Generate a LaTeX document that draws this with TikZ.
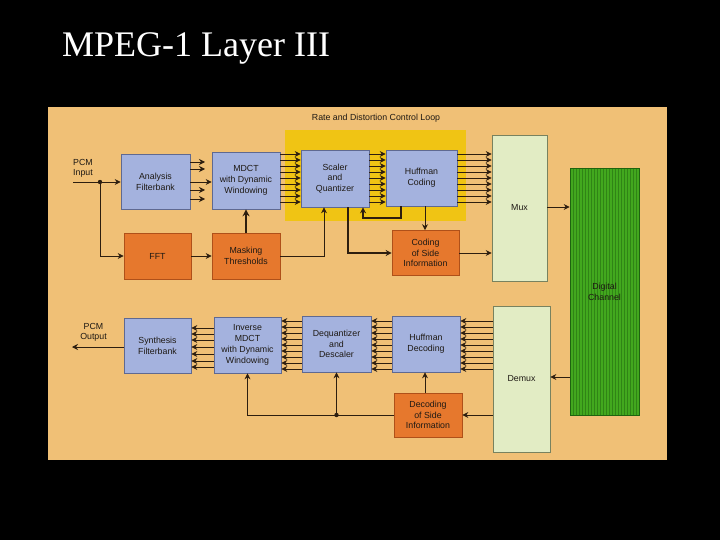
\documentclass[tikz,border=0pt]{standalone}
\usepackage{fontspec}
\setmainfont{Liberation Sans}
\newfontfamily\titlefont{Liberation Serif}
\usetikzlibrary{arrows.meta}
\definecolor{panel}{RGB}{240,192,118}
\definecolor{hilite}{RGB}{240,196,20}
\definecolor{boxblue}{RGB}{164,178,222}
\definecolor{blueedge}{RGB}{95,105,145}
\definecolor{boxorange}{RGB}{230,120,45}
\definecolor{orangeedge}{RGB}{175,80,25}
\definecolor{muxgreen}{RGB}{226,236,196}
\definecolor{muxedge}{RGB}{120,130,95}
\definecolor{dcgreen}{RGB}{66,168,30}
\definecolor{dcstripe}{RGB}{48,132,22}
\definecolor{dcdark}{RGB}{30,100,15}
\definecolor{linec}{RGB}{45,30,15}
\definecolor{txt}{RGB}{30,25,20}
\begin{document}
\begin{tikzpicture}[x=1pt,y=-1pt,
  box/.style={draw=blueedge, line width=0.6pt, align=center, inner sep=0pt, text=txt,
    font=\fontsize{8.8}{10.8}\selectfont},
  bluebox/.style={box, fill=boxblue},
  orangebox/.style={box, fill=boxorange, draw=orangeedge},
  muxbox/.style={box, fill=muxgreen, draw=muxedge},
  dcbox/.style={box, fill=dcgreen, draw=dcdark,
    path picture={\foreach \i in {1,...,23}
      \draw[dcstripe, line width=0.9pt] ([xshift=3*\i pt]path picture bounding box.north west) -- ([xshift=3*\i pt]path picture bounding box.south west);}},
  lbl/.style={inner sep=0pt, text=txt, font=\fontsize{8.8}{10}\selectfont},
  conn/.style={draw=linec, line width=0.8pt},
  arr/.style={conn, -{Stealth[length=6pt,width=6pt]}},
  dot/.style={fill=linec}
]
\useasboundingbox (0,0) rectangle (720,540);
\fill[black] (0,0) rectangle (720,540);
\node[anchor=base west, text=white, inner sep=0pt, font=\titlefont\fontsize{36}{40}\selectfont] (title) at (62,57) {MPEG-1 Layer III};
% panel
\fill[panel] (48,107) rectangle (667,460);
\fill[hilite] (285,130) rectangle (466,221);
\node[lbl] (rdl) at (376,118) {Rate and Distortion Control Loop};
% encoder
\node[bluebox, minimum width=69pt, minimum height=55pt] (af) at (155.5,182) {Analysis\\Filterbank};
\node[bluebox, minimum width=68pt, minimum height=57pt] (mdct) at (246,180.5) {MDCT\\with Dynamic\\Windowing};
\node[orangebox, minimum width=67pt, minimum height=46pt] (fft) at (157.5,256) {FFT};
\node[orangebox, minimum width=68pt, minimum height=46pt] (mask) at (246,256) {Masking\\Thresholds};
\node[bluebox, minimum width=68pt, minimum height=57pt] (sq) at (335,178.5) {Scaler\\and\\Quantizer};
\node[bluebox, minimum width=71pt, minimum height=56pt] (huff) at (421.5,178) {Huffman\\Coding};
\node[orangebox, minimum width=67pt, minimum height=45pt] (csi) at (425.5,253) {Coding\\of Side\\Information};
\node[muxbox, minimum width=55pt, minimum height=146pt] (mux) at (519.5,208) {Mux};
\node[dcbox, minimum width=69pt, minimum height=247pt] (dc) at (604.5,291.5) {Digital\\Channel};
% decoder
\node[bluebox, minimum width=67pt, minimum height=55pt] (sf) at (157.5,345.5) {Synthesis\\Filterbank};
\node[bluebox, minimum width=67pt, minimum height=56pt] (imdct) at (247.5,345) {Inverse\\MDCT\\with Dynamic\\Windowing};
\node[bluebox, minimum width=69pt, minimum height=56pt] (dq) at (336.5,344) {Dequantizer\\and\\Descaler};
\node[bluebox, minimum width=68pt, minimum height=56pt] (hd) at (426,344) {Huffman\\Decoding};
\node[orangebox, minimum width=68pt, minimum height=44pt] (dsi) at (428,415) {Decoding\\of Side\\Information};
\node[muxbox, minimum width=57pt, minimum height=146pt] (demux) at (521.5,379) {Demux};
% PCM labels
\node[lbl, anchor=west, align=left] (pcmin) at (73,168.5) {PCM\\Input};
\node[lbl, align=center] (pcmout) at (93.5,332.5) {PCM\\Output};
% encoder connectors
\coordinate (pin) at (73,182);
\coordinate (j1) at (100,182);
\draw[arr] (pin) -- (af.west |- pin);
\draw[arr] (j1) |- (fft.west);
\fill[dot] (j1) circle (2.2pt);
\foreach \y in {162,169,190,199} \draw[arr] (af.east |- 0,\y) -- (205,\y);
\draw[arr] (af.east |- 0,182) -- (mdct.west |- 0,182);
\draw[arr] (fft.east) -- (mask.west);
\draw[arr, line width=1.8pt, -{Stealth[length=7pt,width=7pt]}] (mask.north) -- (mdct.south);
\draw[arr] (mask.east) -| (324,0 |- sq.south);
\foreach \y in {154,160,166,172,178,184,190,196,202} {
  \draw[arr] (mdct.east |- 0,\y) -- (sq.west |- 0,\y);
  \draw[arr] (sq.east |- 0,\y) -- (huff.west |- 0,\y);
  \draw[arr] (huff.east |- 0,\y) -- (mux.west |- 0,\y);
}
\draw[arr, line width=1.1pt] (348,0 |- sq.south) |- (csi.west);
\draw[arr, line width=1.1pt] (401,0 |- huff.south) -- (401,218) -| (363,0 |- sq.south);
\draw[arr] (425,0 |- huff.south) -- (425,0 |- csi.north);
\draw[arr] (csi.east) -- (csi.east -| mux.west);
\draw[arr] (mux.east |- 0,207) -- (dc.west |- 0,207);
% decoder connectors
\draw[arr] (dc.west |- 0,377) -- (demux.east |- 0,377);
\foreach \y in {321,327,333,339,345,351,357,363,369} {
  \draw[arr] (demux.west |- 0,\y) -- (hd.east |- 0,\y);
  \draw[arr] (hd.west |- 0,\y) -- (dq.east |- 0,\y);
  \draw[arr] (dq.west |- 0,\y) -- (imdct.east |- 0,\y);
}
\foreach \y in {328,334,340,347,354,361,367} \draw[arr] (imdct.west |- 0,\y) -- (sf.east |- 0,\y);
\coordinate (pout) at (72,347);
\draw[arr] (sf.west |- pout) -- (pout);
\draw[arr] (demux.west |- dsi.east) -- (dsi.east);
\draw[arr] (425,0 |- dsi.north) -- (425,0 |- hd.south);
\draw[arr] (dsi.west) -| (imdct.south);
\coordinate (j2) at (dq.south |- dsi.west);
\fill[dot] (j2) circle (2.2pt);
\draw[arr] (j2) -- (dq.south);
\end{tikzpicture}
\end{document}
